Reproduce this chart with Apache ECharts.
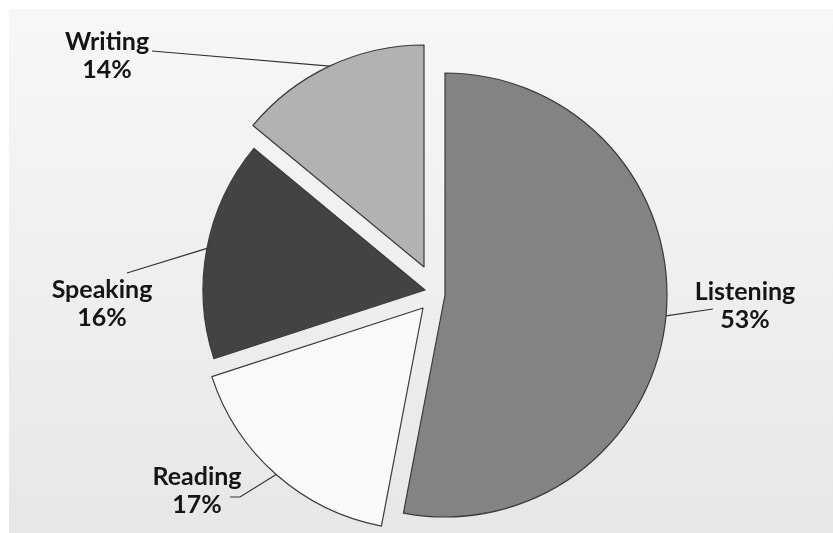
<!DOCTYPE html>
<html><head><meta charset="utf-8">
<script src="https://cdn.jsdelivr.net/npm/echarts@6/dist/echarts.min.js"></script>
<style>html,body{margin:0;padding:0;background:#fff}#c{width:833px;height:533px}</style>
</head><body><div id="c"></div><script>
const categories = ['Listening', 'Reading', 'Speaking', 'Writing'];
const values = [53, 17, 16, 14];

// styling / layout (not data)
const sliceColors = ['#838383', '#f9f9f9', '#434343', '#b2b2b2'];
const sliceCenters = [[445, 295], [423, 308], [425, 290], [424, 267]]; // exploded slice apex
const labelPos = [[745, 306], [197, 491], [102, 304], [107, 56]];
const lineEnds = [
  [[713, 309], [713, 309]],
  [[240, 497], [230, 497]],
  [[127, 273], [127, 273]],
  [[152, 51], [152, 51]]
];

function sliceSeries(k) {
  return {
    type: 'pie',
    silent: true,
    center: sliceCenters[k],
    radius: 222,
    startAngle: 90,
    clockwise: true,
    emphasis: {disabled: true},
    z: 2 + k,
    data: categories.map((n, i) => ({
      name: n,
      value: values[i],
      itemStyle: i === k
        ? {color: sliceColors[i], borderColor: '#3a3a3a', borderWidth: 1.2}
        : {color: 'rgba(0,0,0,0)', borderWidth: 0},
      label: {show: i === k},
      labelLine: {show: i === k}
    })),
    label: {
      formatter: p => p.name + '\n' + p.value + '%',
      fontFamily: 'Lato', fontWeight: 'bold', fontSize: 25, lineHeight: 28,
      color: '#151515', align: 'center'
    },
    labelLine: {lineStyle: {color: '#333', width: 1.2}, length: 20, length2: 10},
    labelLayout: function (p) {
      const i = p.dataIndex;
      if (i !== k) return {};
      const start = p.labelLinePoints ? p.labelLinePoints[0] : lineEnds[i][0];
      return {
        x: labelPos[i][0], y: labelPos[i][1],
        align: 'center', verticalAlign: 'middle',
        labelLinePoints: [start, lineEnds[i][0], lineEnds[i][1]]
      };
    }
  };
}

const chart = echarts.init(document.getElementById('c'), null, {renderer: 'canvas'});
chart.setOption({
  animation: false,
  backgroundColor: '#ffffff',
  graphic: [{
    type: 'rect', z: -10, silent: true,
    shape: {x: 9, y: 9, width: 824, height: 524},
    style: {fill: {type: 'linear', x: 0, y: 0, x2: 0, y2: 1,
      colorStops: [{offset: 0, color: '#f7f7f7'}, {offset: 1, color: '#e7e7e7'}]}}
  }],
  series: categories.map((_, k) => sliceSeries(k))
});
</script></body></html>
